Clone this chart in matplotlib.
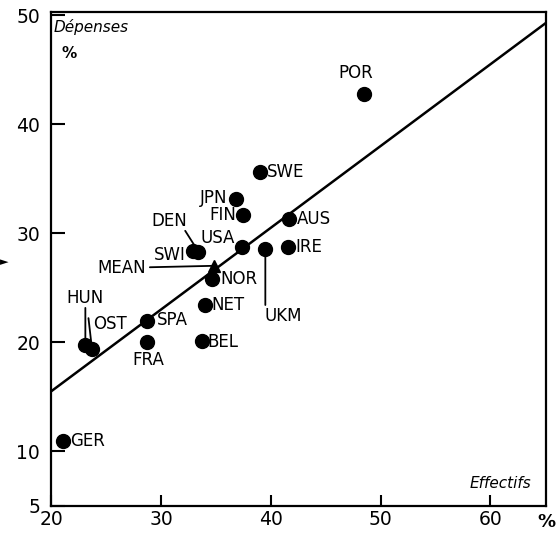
import numpy as np
import matplotlib
matplotlib.use('Agg')
import matplotlib.pyplot as plt

# countries: effectifs (x, %) and depenses (y, %)
names = ['POR', 'SWE', 'JPN', 'FIN', 'AUS', 'USA', 'IRE', 'UKM', 'DEN', 'SWI',
         'NOR', 'NET', 'SPA', 'BEL', 'FRA', 'HUN', 'OST', 'GER']
effectifs = [48.5, 39.0, 36.8, 37.5, 41.7, 37.4, 41.6, 39.5, 33.4, 32.9,
             34.6, 34.0, 28.7, 33.7, 28.7, 23.1, 23.7, 21.1]
depenses = [42.8, 35.6, 33.1, 31.7, 31.3, 28.7, 28.7, 28.5, 28.3, 28.4,
            25.8, 23.4, 21.9, 20.1, 20.0, 19.7, 19.4, 10.95]

mean_x, mean_y = 34.8, 27.0

# regression line end points
fit_x = [20, 65.1]
fit_y = [15.5, 49.3]

xticks = [20, 30, 40, 50, 60]
yticks = [5, 10, 20, 30, 40, 50]

# label placement: offset in points, ha, va
lab = {
    'POR': ((-6, 15), 'center', 'center'),
    'SWE': ((5, 0), 'left', 'center'),
    'JPN': ((-6, 1), 'right', 'center'),
    'FIN': ((-5, 0), 'right', 'center'),
    'AUS': ((5, 0), 'left', 'center'),
    'USA': ((-5, 6.5), 'right', 'center'),
    'IRE': ((5, 0), 'left', 'center'),
    'UKM': ((13, -48), 'center', 'center'),
    'DEN': ((-21, 22), 'center', 'center'),
    'SWI': ((-5, -3), 'right', 'center'),
    'NOR': ((6.5, 0), 'left', 'center'),
    'NET': ((4.5, 0), 'left', 'center'),
    'SPA': ((7.5, 1), 'left', 'center'),
    'BEL': ((4, -1), 'left', 'center'),
    'FRA': ((1, -13), 'center', 'center'),
    'HUN': ((0, 34), 'center', 'center'),
    'OST': ((0.5, 18), 'left', 'center'),
    'GER': ((5, 0), 'left', 'center'),
}
# leader lines: start offset (points) -> to the dot
leaders = {'UKM': (0, -40), 'HUN': (0, 27), 'OST': (-2.5, 22), 'DEN': (-9.5, 15)}

fig = plt.figure(figsize=(5.58, 5.34), dpi=100)
ax = fig.add_axes([0.092, 0.053, 0.887, 0.925])

ax.plot(fit_x, fit_y, color='black', lw=1.8, zorder=2)
ax.plot(effectifs, depenses, 'o', color='black', ms=10, zorder=3)
ax.plot([mean_x], [mean_y], '^', color='black', ms=9, zorder=3)

for n, x, y in zip(names, effectifs, depenses):
    off, ha, va = lab[n]
    ax.annotate(n, (x, y), xytext=off, textcoords='offset points',
                ha=ha, va=va, fontsize=12)
    if n in leaders:
        ax.annotate('', (x, y), xytext=leaders[n], textcoords='offset points',
                    arrowprops=dict(arrowstyle='-', lw=1.3, color='black',
                                    shrinkA=0, shrinkB=0))

ax.annotate('MEAN', (mean_x, mean_y), xytext=(-49, -1.5), textcoords='offset points',
            ha='right', va='center', fontsize=12,
            arrowprops=dict(arrowstyle='-', lw=1.3, color='black',
                            shrinkA=1, shrinkB=0))

ax.set_xlim(20, 65.1)
ax.set_ylim(5, 50.3)
ax.set_xticks(xticks)
ax.set_yticks(yticks)
ax.tick_params(direction='in', length=8, width=1.5, labelsize=13.5)
ax.tick_params(axis='y', length=10, pad=8)
ax.tick_params(axis='x', pad=3)
for s in ax.spines.values():
    s.set_linewidth(1.6)

ax.text(0.005, 0.985, 'Dépenses', transform=ax.transAxes, ha='left', va='top',
        fontsize=11, style='italic')
ax.text(0.02, 0.93, '%', transform=ax.transAxes, ha='left', va='top',
        fontsize=11, weight='bold')
ax.text(0.97, 0.045, 'Effectifs', transform=ax.transAxes, ha='right', va='center',
        fontsize=11, style='italic')
ax.text(1.0, -0.032, '%', transform=ax.transAxes, ha='center', va='center',
        fontsize=13, weight='bold')

fig.text(0.0, 1 - 262 / 534, '\u25ba', ha='left', va='center', fontsize=8)

fig.savefig('out.png', dpi=100)
